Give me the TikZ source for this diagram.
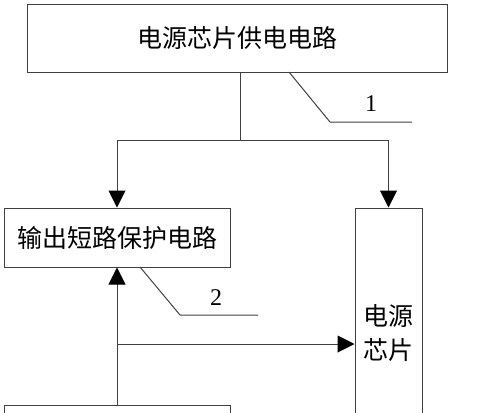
\documentclass[tikz,border=0pt]{standalone}
\usepackage{fontspec}
\setmainfont{Liberation Serif}
\newfontfamily\cjk{Noto Sans CJK SC}
\usetikzlibrary{arrows.meta}
\begin{document}
\begin{tikzpicture}[x=1pt,y=-1pt,
  box/.style={draw=black!75,line width=1pt,rectangle,inner sep=0pt,font=\cjk\fontsize{25}{30}\selectfont},
  conn/.style={draw=black!75,line width=1pt},
  arr/.style={conn,-{Triangle[length=17pt,width=17pt,black]}},
  num/.style={font=\fontsize{24}{28}\selectfont,inner sep=0pt}]
\useasboundingbox (0,0) rectangle (500,412);
\clip (0,0) rectangle (500,412);
\node[box,minimum width=420pt,minimum height=67pt] (top) at (237,38.5) {电源芯片供电电路};
\node[box,minimum width=226pt,minimum height=59pt] (prot) at (117,237.5) {输出短路保护电路};
\node[box,minimum width=67pt,minimum height=250pt,align=center,font=\cjk\fontsize{25}{34}\selectfont] (chip) at (388.5,333) {电源\\芯片};
\node[box,minimum width=226pt,minimum height=60pt] (bottom) at (117,435) {};
\coordinate (j1) at (240,140);
\coordinate (j2) at (117,344);
\coordinate (l1a) at (289,72);
\coordinate (l1b) at (330,122);
\coordinate (l1c) at (412,122);
\coordinate (l2a) at (140,267);
\coordinate (l2b) at (180,315);
\coordinate (l2c) at (258,315);
\draw[conn] (top.south -| j1) -- (j1);
\draw[arr] (j1) -| (prot.north);
\draw[arr] (j1) -| (chip.north);
\draw[arr] (bottom.north) -- (prot.south);
\draw[arr] (j2) -- (j2 -| chip.west);
\draw[conn] (l1a) -- (l1b) -- (l1c);
\draw[conn] (l2a) -- (l2b) -- (l2c);
\node[num] (n1) at (371,104) {1};
\node[num] (n2) at (216,298) {2};
\end{tikzpicture}
\end{document}
